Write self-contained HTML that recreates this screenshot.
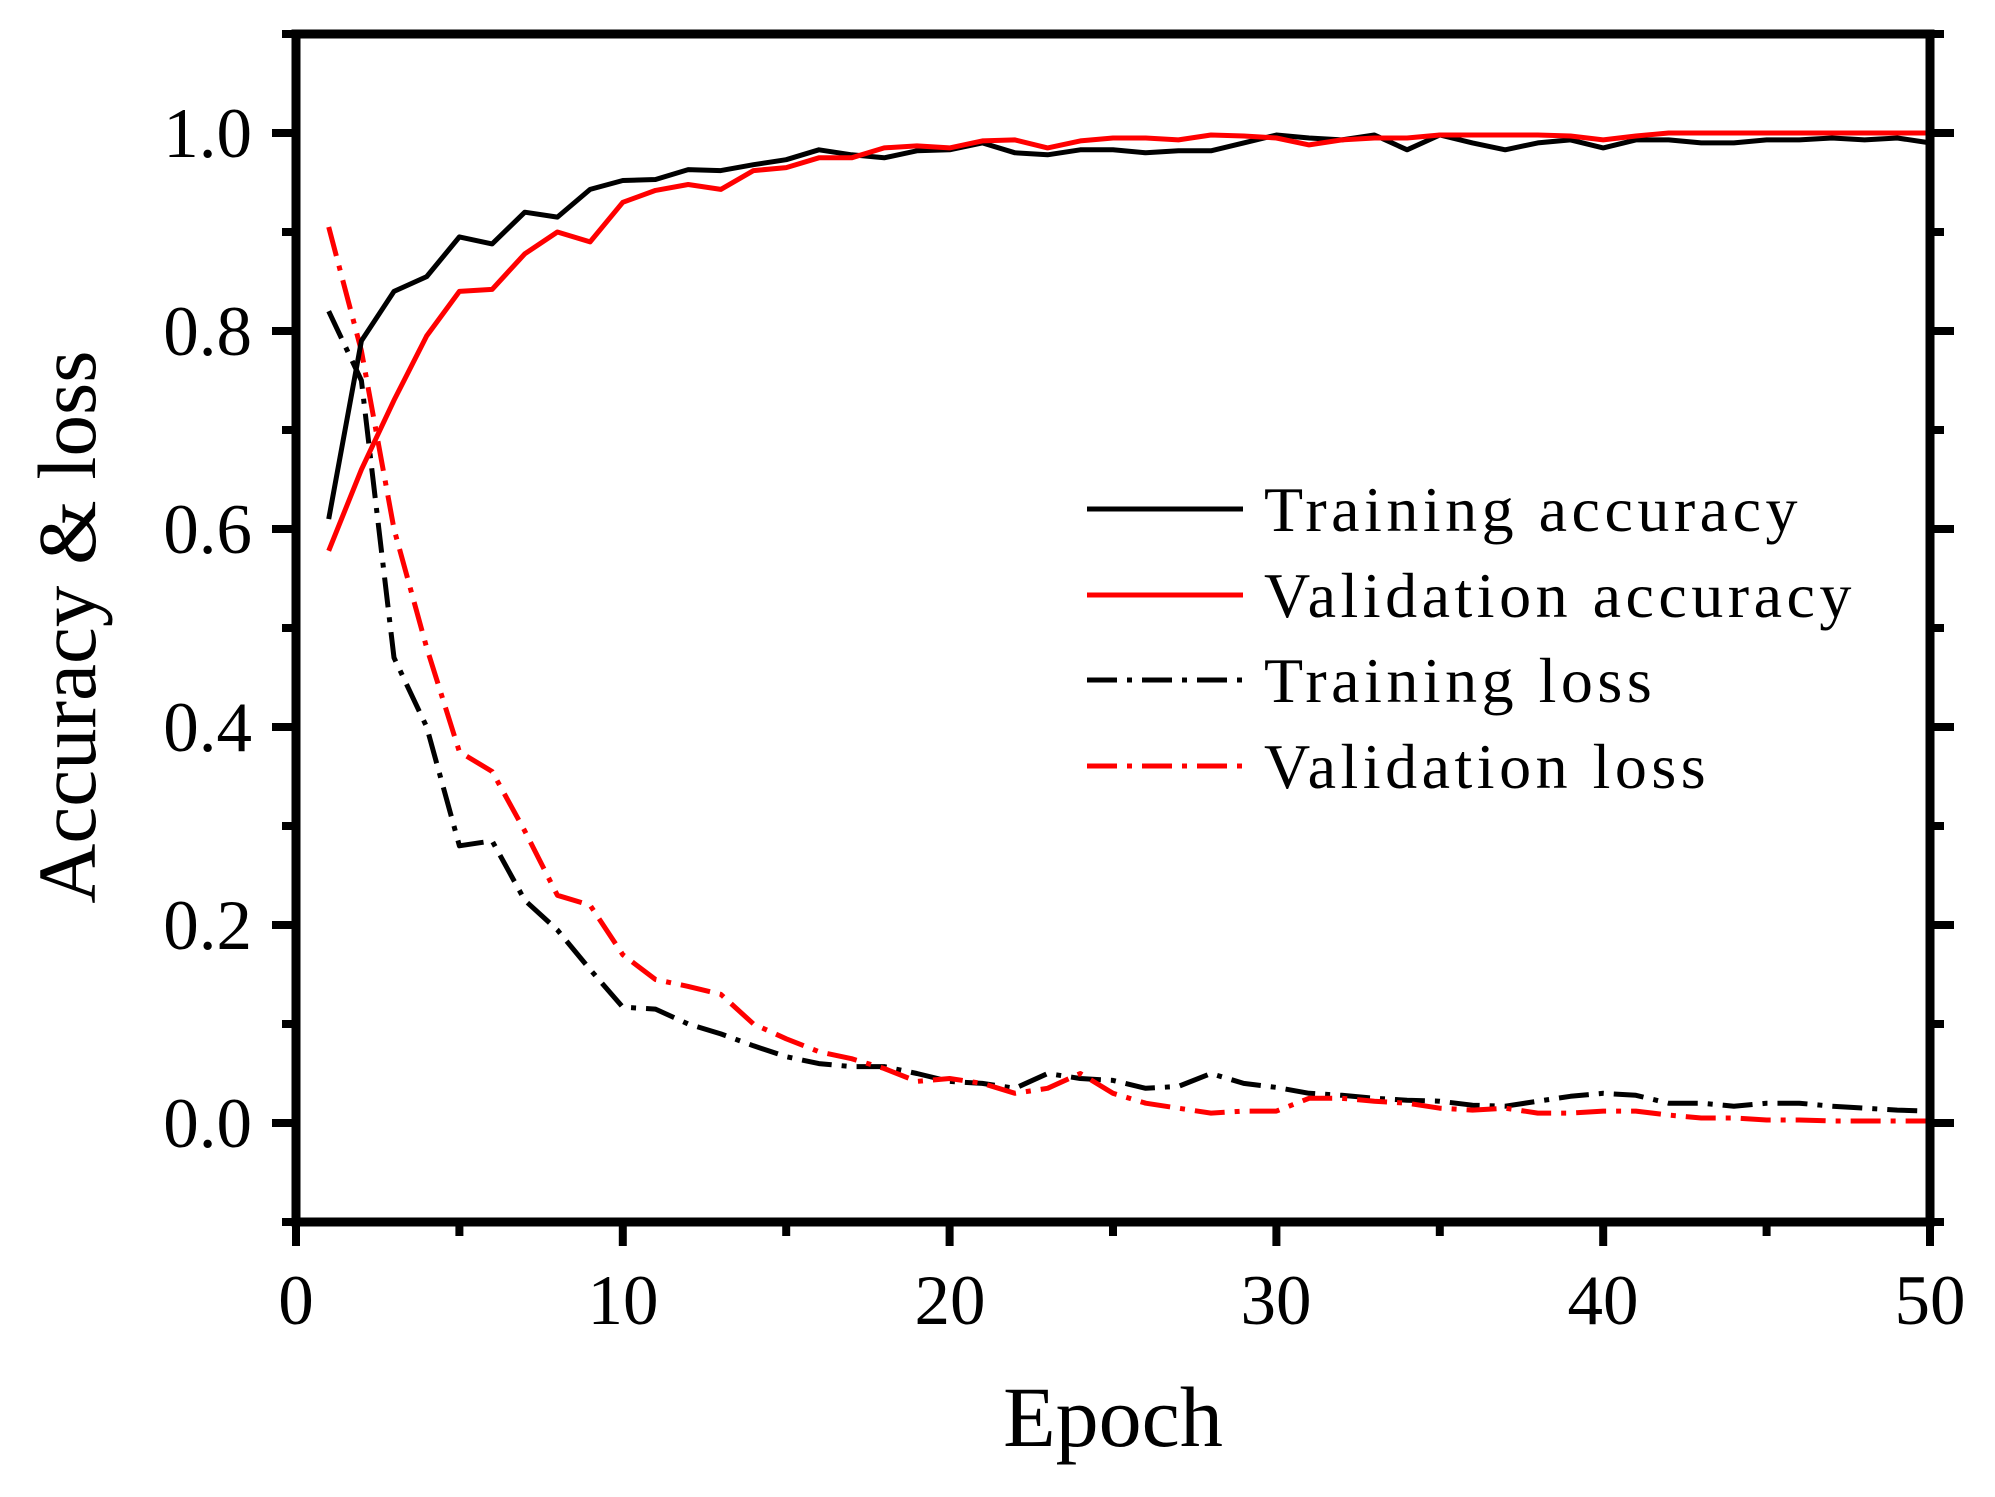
<!DOCTYPE html>
<html><head><meta charset="utf-8"><style>
html,body{margin:0;padding:0;background:#fff;}
svg{display:block;}
text{font-family:"Liberation Serif",serif;fill:#000;}
</style></head><body>
<svg id="s" width="1995" height="1497" viewBox="0 0 1995 1497" xmlns="http://www.w3.org/2000/svg">
<rect width="1995" height="1497" fill="#fff"/>
<g id="data"></g>
<g id="axes"></g>
<g font-size="71" text-anchor="end">
<text x="252" y="1147">0.0</text>
<text x="252" y="949">0.2</text>
<text x="252" y="751">0.4</text>
<text x="252" y="553">0.6</text>
<text x="252" y="355">0.8</text>
<text x="252" y="157">1.0</text>
</g>
<g font-size="71" text-anchor="middle">
<text x="296" y="1324">0</text>
<text x="623" y="1324">10</text>
<text x="950" y="1324">20</text>
<text x="1276" y="1324">30</text>
<text x="1603" y="1324">40</text>
<text x="1930" y="1324">50</text>
</g>
<text x="1113" y="1446" font-size="86" text-anchor="middle">Epoch</text>
<text transform="translate(95,627) rotate(-90)" font-size="83" text-anchor="middle">Accuracy &amp; loss</text>
<g font-size="64" letter-spacing="4.5">
<text x="1264" y="531">Training accuracy</text>
<text x="1264" y="617">Validation accuracy</text>
<text x="1264" y="702">Training loss</text>
<text x="1264" y="788">Validation loss</text>
</g>
<g stroke-width="5" fill="none">
<line x1="1087" y1="509" x2="1243" y2="509" stroke="#000"/>
<line x1="1087" y1="595" x2="1243" y2="595" stroke="#f00"/>
<line x1="1087" y1="680" x2="1243" y2="680" stroke="#000" stroke-dasharray="30,10,5,10"/>
<line x1="1087" y1="766" x2="1243" y2="766" stroke="#f00" stroke-dasharray="30,10,5,10"/>
</g>
</svg>
<script>
var X=function(e){return 296+e*32.68;},Y=function(v){return 1123-v*990;};
var ta=[0.61,0.79,0.84,0.855,0.895,0.888,0.92,0.915,0.943,0.952,0.953,0.963,0.962,0.968,0.973,0.983,0.978,0.975,0.982,0.983,0.99,0.98,0.978,0.983,0.983,0.98,0.982,0.982,0.99,0.998,0.995,0.993,0.998,0.983,0.998,0.99,0.983,0.99,0.993,0.985,0.993,0.993,0.99,0.99,0.993,0.993,0.995,0.993,0.995,0.99];
var va=[0.578,0.66,0.73,0.795,0.84,0.842,0.878,0.9,0.89,0.93,0.942,0.948,0.943,0.962,0.965,0.975,0.975,0.985,0.987,0.985,0.992,0.993,0.985,0.992,0.995,0.995,0.993,0.998,0.997,0.995,0.988,0.993,0.995,0.995,0.998,0.998,0.998,0.998,0.997,0.993,0.997,1,1,1,1,1,1,1,1,1];
var tl=[0.82,0.75,0.47,0.4,0.28,0.285,0.225,0.195,0.155,0.117,0.115,0.1,0.09,0.078,0.067,0.06,0.057,0.057,0.05,0.042,0.04,0.035,0.05,0.045,0.043,0.035,0.037,0.05,0.04,0.036,0.03,0.028,0.025,0.023,0.022,0.018,0.017,0.022,0.027,0.03,0.028,0.02,0.02,0.017,0.02,0.02,0.017,0.015,0.013,0.012];
var vl=[0.905,0.78,0.6,0.48,0.375,0.355,0.295,0.23,0.22,0.17,0.145,0.138,0.13,0.1,0.085,0.072,0.065,0.055,0.042,0.045,0.04,0.03,0.035,0.05,0.03,0.02,0.015,0.01,0.012,0.012,0.025,0.025,0.022,0.02,0.015,0.013,0.015,0.01,0.01,0.012,0.012,0.008,0.005,0.005,0.003,0.003,0.002,0.002,0.002,0.002];
function pl(d,c,dash){var p=d.map(function(v,i){return X(i+1).toFixed(1)+','+Y(v).toFixed(1)}).join(' ');
return '<polyline points="'+p+'" fill="none" stroke="'+c+'" stroke-width="5" stroke-linejoin="round"'+(dash?' stroke-dasharray="30,10,5,10"':'')+'/>';}
document.getElementById('data').innerHTML=pl(tl,'#000',1)+pl(vl,'#f00',1)+pl(ta,'#000')+pl(va,'#f00');
var a='<rect x="296" y="34" width="1634" height="1188" fill="none" stroke="#000" stroke-width="9"/>';
for(var k=-1;k<=11;k++){var y=Y(k/10),maj=(k%2==0);var L=maj?24:14;
a+='<line x1="'+(296-L)+'" y1="'+y+'" x2="296" y2="'+y+'" stroke="#000" stroke-width="8"/>';
a+='<line x1="1930" y1="'+y+'" x2="'+(1930+L)+'" y2="'+y+'" stroke="#000" stroke-width="8"/>';}
for(var e=0;e<=50;e+=5){var x=X(e),L=(e%10==0)?24:14;
a+='<line x1="'+x+'" y1="1222" x2="'+x+'" y2="'+(1222+L)+'" stroke="#000" stroke-width="8"/>';}
document.getElementById('axes').innerHTML=a;
</script>
</body></html>
